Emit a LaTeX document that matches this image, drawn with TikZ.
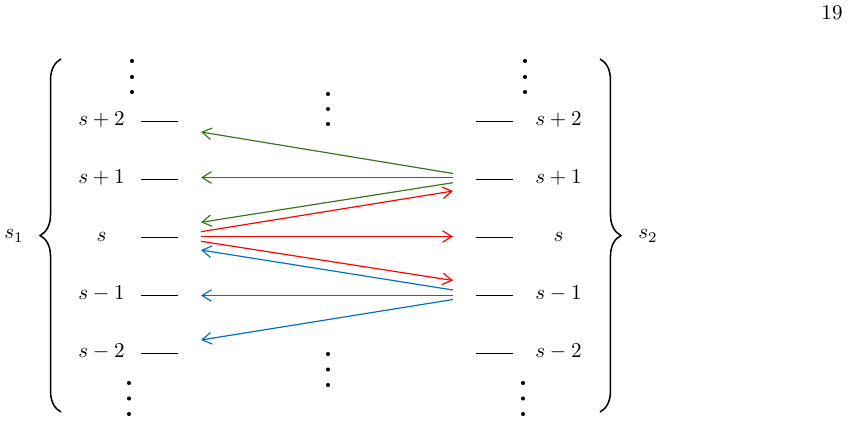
\documentclass[tikz,border=0pt]{standalone}
\usetikzlibrary{decorations.pathreplacing,arrows.meta}
\definecolor{mygreen}{RGB}{56,118,29}
\definecolor{myblue}{RGB}{0,114,189}
\newcommand\sbx[1]{\scalebox{1.24}{#1}}
\begin{document}
\begin{tikzpicture}[x=0.588pt,y=-0.588pt,
  level/.style={line width=0.7pt},
  trans/.style={-{Straight Barb[length=5.5pt,width=6.8pt]},line width=0.7pt},
  gtr/.style={trans,mygreen},
  rtr/.style={trans,red},
  btr/.style={trans,myblue},
  lbl/.style={anchor=base,inner sep=0pt},
  dotfill/.style={fill=black},
  bracestyle/.style={decorate,decoration={brace,amplitude=12.3pt},line width=0.9pt}]
\useasboundingbox (0,0) rectangle (848,422);
\node[lbl] (pg) at (832,19) {\sbx{19}};
% left and right labels with level lines
\foreach \n/\t/\y in {p2/{s+2}/121.3, p1/{s+1}/179.3, z/{s}/237.4, m1/{s-1}/295.6, m2/{s-2}/353.8}{
  \node[lbl] (l\n) at (101.5,\y+3.8) {\sbx{$\t$}};
  \node[lbl] (r\n) at (558.5,\y+3.8) {\sbx{$\t$}};
  \draw[level] (141,\y) -- (178,\y);
  \draw[level] (476,\y) -- (513,\y);
}
% dots
\foreach \x/\a/\b/\c in {132/61/77/92, 129/383/398.5/414, 525/61/77/92, 523/383/398.5/414, 328/94/109/124, 328/354/369.5/385}{
  \fill[dotfill] (\x,\a) circle (1.2pt);
  \fill[dotfill] (\x,\b) circle (1.2pt);
  \fill[dotfill] (\x,\c) circle (1.2pt);
}
% arrow endpoints
\coordinate (Ga1) at (453,173.5); \coordinate (Gb1) at (201,132);
\coordinate (Ga2) at (453,177.5); \coordinate (Gb2) at (201,177.5);
\coordinate (Ga3) at (453,182.7); \coordinate (Gb3) at (201,222.3);
\coordinate (Ra1) at (201,231.7); \coordinate (Rb1) at (453,191);
\coordinate (Ra2) at (201,236.5); \coordinate (Rb2) at (453,236.5);
\coordinate (Ra3) at (201,241.3); \coordinate (Rb3) at (453,280.5);
\coordinate (Ba1) at (453,290); \coordinate (Bb1) at (201,250);
\coordinate (Ba2) at (453,295.5); \coordinate (Bb2) at (201,295.5);
\coordinate (Ba3) at (453,299.5); \coordinate (Bb3) at (201,340);
\draw[gtr] (Ga1) -- (Gb1);
\draw[gtr] (Ga2) -- (Gb2);
\draw[gtr] (Ga3) -- (Gb3);
\draw[rtr] (Ra1) -- (Rb1);
\draw[rtr] (Ra2) -- (Rb2);
\draw[rtr] (Ra3) -- (Rb3);
\draw[btr] (Ba1) -- (Bb1);
\draw[btr] (Ba2) -- (Bb2);
\draw[btr] (Ba3) -- (Bb3);
% braces
\coordinate (LBt) at (61,59); \coordinate (LBb) at (61,412);
\coordinate (RBt) at (600,59); \coordinate (RBb) at (600,412);
\draw[bracestyle] (LBb) -- (LBt);
\draw[bracestyle] (RBt) -- (RBb);
\node (s1) at (14,236) {\sbx{$s_1$}};
\node (s2) at (648,236) {\sbx{$s_2$}};
\end{tikzpicture}
\end{document}
